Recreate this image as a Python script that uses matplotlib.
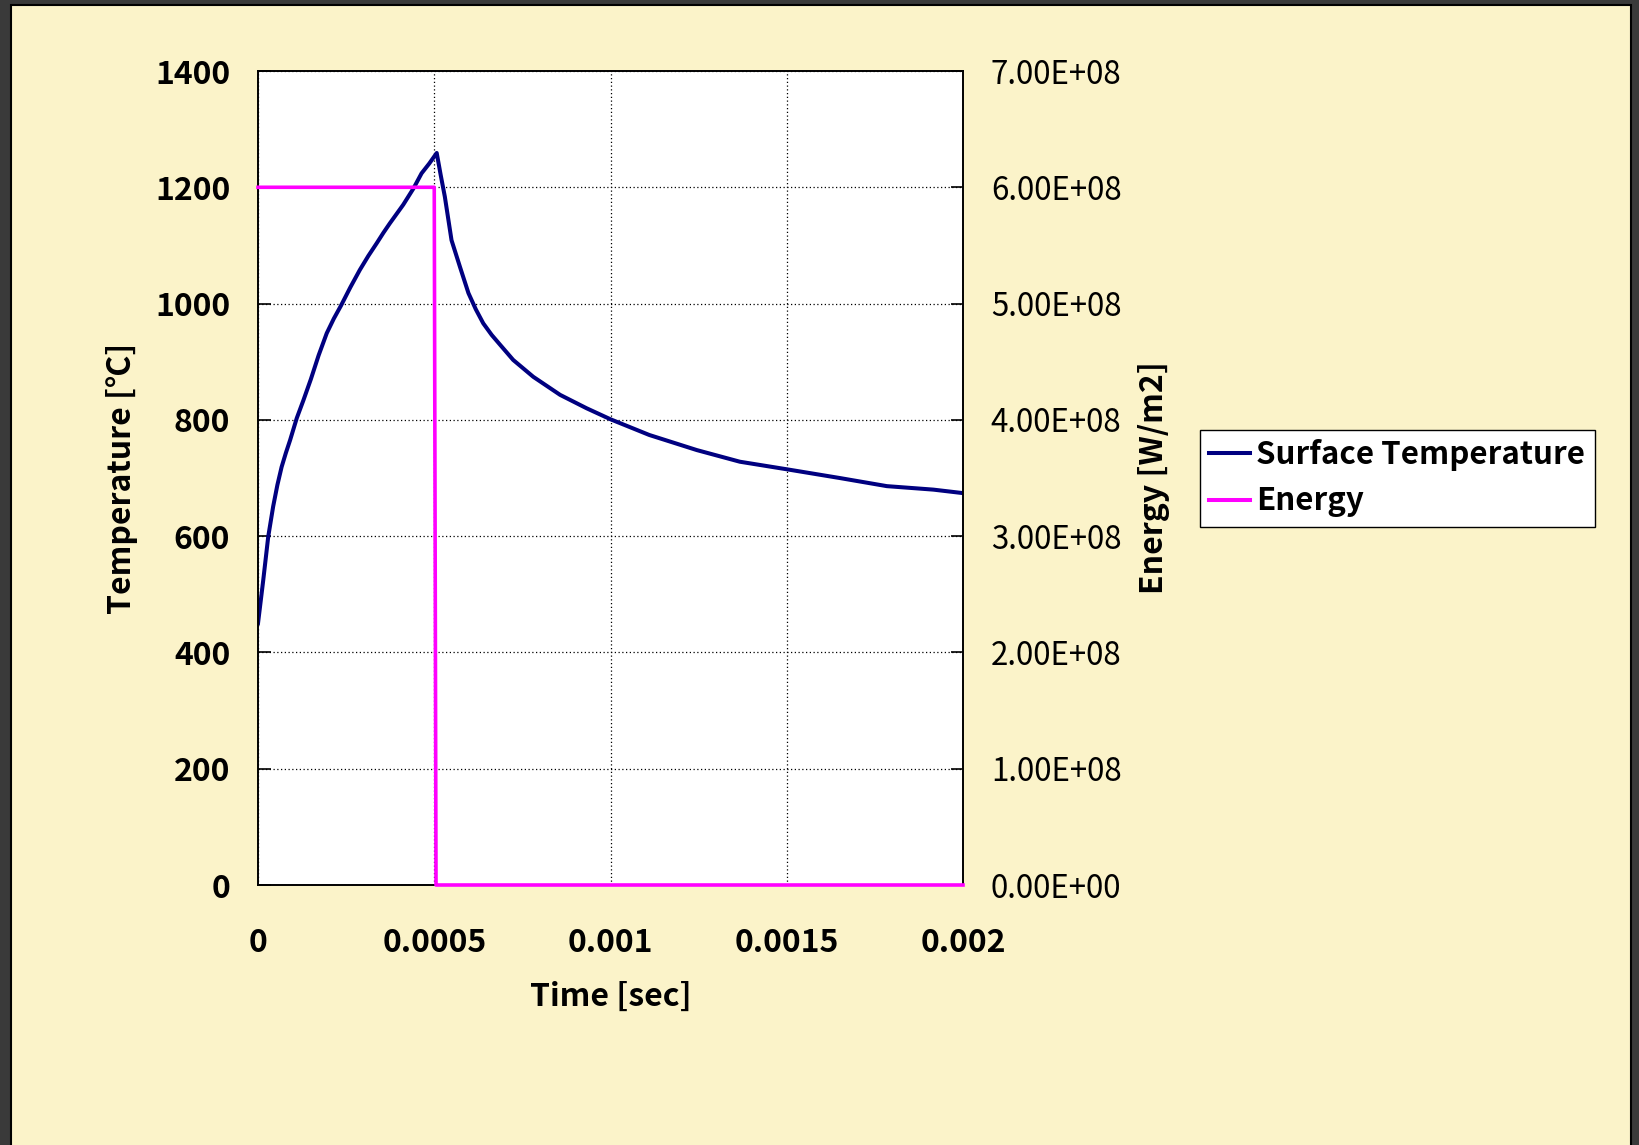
import numpy as np
import matplotlib.pyplot as plt
from matplotlib.patches import Rectangle
from matplotlib.lines import Line2D

plt.rcParams['font.family'] = ['Noto Sans CJK JP', 'DejaVu Sans']

# surface temperature [degC] vs time [sec]
time_temp = [0.0, 0.000015, 0.000029, 0.000043, 0.000055, 0.000067, 0.000079,
             0.000091, 0.00011, 0.000129, 0.00015, 0.000172, 0.000195,
             0.000215, 0.000235, 0.000262, 0.000289, 0.000313, 0.000337,
             0.000356, 0.000374, 0.000393, 0.000412, 0.000441, 0.000464,
             0.000486, 0.000507, 0.000518, 0.00053, 0.000549, 0.000573,
             0.000597, 0.000618, 0.000639, 0.000663, 0.000687, 0.000724,
             0.000781, 0.000857, 0.000932, 0.001, 0.00111, 0.001245,
             0.001367, 0.0015, 0.00165, 0.001784, 0.001916, 0.002]
temperature = [450, 525, 599, 651, 688, 719, 743, 765, 803, 834, 870, 911,
               949, 974, 996, 1028, 1058, 1082, 1104, 1122, 1138, 1154, 1170,
               1198, 1224, 1241, 1259, 1222, 1184, 1109, 1063, 1018, 990, 966,
               946, 929, 903, 874, 843, 820, 801, 774, 748, 728, 715, 700,
               686, 680, 674]

# heat flux [W/m2]
time_energy = [0.0, 0.0005, 0.000505, 0.002]
energy = [6.0e8, 6.0e8, 0.0, 0.0]

x_ticks = [0, 0.0005, 0.001, 0.0015, 0.002]
x_tick_labels = ['0', '0.0005', '0.001', '0.0015', '0.002']

W, H = 1639, 1145
fig = plt.figure(figsize=(W / 100, H / 100), dpi=100)
fig.patch.set_facecolor('#3a3a3a')
fig.patches.append(Rectangle((11 / W, -0.01), (1631 - 11) / W, (H - 5) / H + 0.01,
                             transform=fig.transFigure, facecolor='#fbf3c9',
                             edgecolor='black', linewidth=1.5, zorder=-5))

ax = fig.add_axes([258 / W, 1 - 885 / H, (963 - 258) / W, (885 - 71) / H])
ax.set_facecolor('white')
ax2 = ax.twinx()

ax.plot(time_temp, temperature, color='#000080', linewidth=2.9)
ax2.plot(time_energy, energy, color='#ff00ff', linewidth=2.6,
         clip_on=False, zorder=3)

ax.set_xlim(0, 0.002)
ax.set_ylim(0, 1400)
ax2.set_ylim(0, 7e8)
ax.set_xticks(x_ticks)
ax.set_xticklabels(x_tick_labels)
ax.set_yticks(np.arange(0, 1401, 200))
ax2.set_yticks(np.arange(0, 7.01e8, 1e8))
ax2.set_yticklabels(['{:.2E}'.format(v) for v in np.arange(0, 7.01e8, 1e8)])

ax.grid(True, color='black', linestyle=(0, (1, 2)), linewidth=0.9)
for a in (ax, ax2):
    for s in a.spines.values():
        s.set_color('black')
        s.set_linewidth(1.2)

ax.tick_params(axis='y', direction='in', length=9, width=1.2, pad=20,
               labelsize=23)
ax.tick_params(axis='x', length=0, pad=30, labelsize=23)
for lbl in ax.get_xticklabels() + ax.get_yticklabels():
    lbl.set_fontweight('bold')
ax2.tick_params(axis='y', direction='in', length=9, width=1.2, pad=20,
                labelsize=22.5)

ax.set_xlabel('Time [sec]', fontsize=23, fontweight='bold', labelpad=16)
ax.set_ylabel('Temperature [℃]', fontsize=23, fontweight='bold', labelpad=12)
ax2.set_ylabel('Energy [W/m2]', fontsize=23, fontweight='bold', labelpad=12)

handles = [Line2D([], [], color='#000080', linewidth=2.9),
           Line2D([], [], color='#ff00ff', linewidth=2.9)]
leg = fig.legend(handles, ['Surface Temperature', 'Energy'],
                 loc='upper left', bbox_to_anchor=(1200 / W, 1 - 430 / H),
                 prop={'size': 22.5, 'weight': 'bold'}, frameon=True,
                 fancybox=False, handlelength=1.3, handletextpad=0.2,
                 borderpad=0.3, labelspacing=0.45, borderaxespad=0)
leg.get_frame().set_edgecolor('black')
leg.get_frame().set_linewidth(1.0)
leg.get_frame().set_alpha(1.0)

fig.savefig('out.png', dpi=100, facecolor=fig.get_facecolor())
